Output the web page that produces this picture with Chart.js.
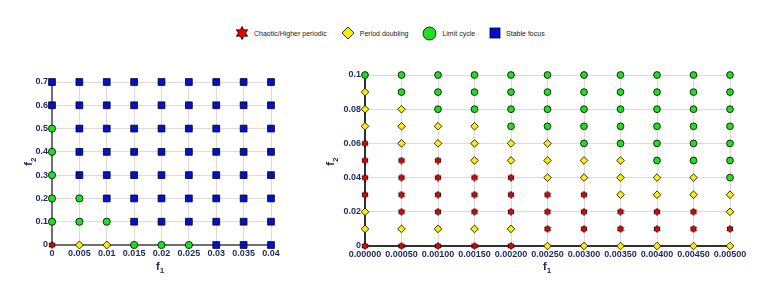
<!DOCTYPE html>
<html>
<head>
<meta charset="utf-8">
<script src="https://cdn.jsdelivr.net/npm/chart.js@4.4.1/dist/chart.umd.min.js"></script>
<style>
  html, body { margin: 0; padding: 0; background: #fff; }
  body { width: 784px; height: 284px; position: relative; overflow: hidden; font-family: "Liberation Sans", Arial, sans-serif; }
  .box { position: absolute; }
  #legend { position: absolute; top: 26px; left: 235px; height: 14px; display: flex; align-items: center; font-size: 7px; color: #222; }
  #legend span.item { display: flex; align-items: center; margin-right: 14px; }
  #legend svg { margin-right: 5px; }
  .atitle { position: absolute; font-weight: bold; font-size: 11px; color: #1c2a5a; }
  .atitle sub { font-size: 8px; }
  .rot { transform: rotate(-90deg); transform-origin: center; }
</style>
</head>
<body>
<div id="legend">
  <span class="item"><svg width="14" height="14" viewBox="-7 -7 14 14"><polygon id="starPoly" fill="#e80000" stroke="#000" stroke-width="0.8"/></svg>Chaotic/Higher periodic</span>
  <span class="item"><svg width="14" height="14" viewBox="-7 -7 14 14"><polygon points="0,-6 6,0 0,6 -6,0" fill="#ffee00" stroke="#000" stroke-width="0.8"/></svg>Period doubling</span>
  <span class="item"><svg width="15" height="15" viewBox="-7.5 -7.5 15 15"><circle r="6.5" fill="#1ee01e" stroke="#000" stroke-width="0.8"/></svg>Limit cycle</span>
  <span class="item"><svg width="12" height="12" viewBox="-6 -6 12 12"><rect x="-5" y="-5" width="10" height="10" fill="#0010d8" stroke="#000" stroke-width="0.8"/></svg>Stable focus</span>
</div>
<div class="box" style="left:0;top:60px;width:300px;height:224px"><canvas id="leftChart"></canvas></div>
<div class="box" style="left:300px;top:60px;width:484px;height:224px"><canvas id="rightChart"></canvas></div>
<div class="atitle" style="left:156px;top:260px">f<sub>1</sub></div>
<div class="atitle rot" style="left:26px;top:154px">f<sub>2</sub></div>
<div class="atitle" style="left:543px;top:260px">f<sub>1</sub></div>
<div class="atitle rot" style="left:328px;top:154px">f<sub>2</sub></div>
<script>
// --- data ---
// state codes: C = chaotic/higher periodic, P = period doubling, L = limit cycle, S = stable focus
// each column string runs from f2 = 0 upwards

// left panel
const leftF1 = [0, 0.005, 0.01, 0.015, 0.02, 0.025, 0.03, 0.035, 0.04];
const leftF2 = [0, 0.1, 0.2, 0.3, 0.4, 0.5, 0.6, 0.7];
const leftStates = [
  "CLLLLLSS",
  "PLLSSSSS",
  "PLSSSSSS",
  "LSSSSSSS",
  "LSSSSSSS",
  "LSSSSSSS",
  "SSSSSSSS",
  "SSSSSSSS",
  "SSSSSSSS",
];
const leftXTicks = ["0", "0.005", "0.01", "0.015", "0.02", "0.025", "0.03", "0.035", "0.04"];
const leftYTicks = ["0", "0.1", "0.2", "0.3", "0.4", "0.5", "0.6", "0.7"];

// right panel
const rightF1 = [0, 0.0005, 0.001, 0.0015, 0.002, 0.0025, 0.003, 0.0035, 0.004, 0.0045, 0.005];
const rightF2 = [0, 0.01, 0.02, 0.03, 0.04, 0.05, 0.06, 0.07, 0.08, 0.09, 0.1];
const rightStates = [
  "CPPCCCCPPPL",
  "CPCCCCPPPLL",
  "CPCCCCPPLLL",
  "CPCCCPPPLLL",
  "CPCCCPPLLLL",
  "PCCCPPPLLLL",
  "PCCCPPLLLLL",
  "PCCPPPLLLLL",
  "PCCPPLLLLLL",
  "PCCPPLLLLLL",
  "PCPPLLLLLLL",
];
const rightXTicks = ["0.00000", "0.00050", "0.00100", "0.00150", "0.00200", "0.00250", "0.00300", "0.00350", "0.00400", "0.00450", "0.00500"];
const rightYVals = [0, 0.02, 0.04, 0.06, 0.08, 0.1];
const rightYTicks = ["0", "0.02", "0.04", "0.06", "0.08", "0.1"];

const stateNames = { C: "Chaotic/Higher periodic", P: "Period doubling", L: "Limit cycle", S: "Stable focus" };
const stateColors = { C: "#e80000", P: "#ffee00", L: "#1ee01e", S: "#0010d8" };

// six point star, used by legend svg and as a point image
function starPoints(rOut, rIn) {
  const pts = [];
  for (let i = 0; i < 12; i++) {
    const r = i % 2 === 0 ? rOut : rIn;
    const a = -Math.PI / 2 + i * Math.PI / 6;
    pts.push([r * Math.cos(a), r * Math.sin(a)]);
  }
  return pts;
}
document.getElementById("starPoly").setAttribute("points",
  starPoints(6.5, 3.6).map(p => p[0].toFixed(2) + "," + p[1].toFixed(2)).join(" "));

function starImage(size) {
  const c = document.createElement("canvas");
  c.width = size; c.height = size;
  const ctx = c.getContext("2d");
  ctx.translate(size / 2, size / 2);
  const pts = starPoints(size / 2 - 0.5, size / 2 * 0.58);
  ctx.beginPath();
  pts.forEach((p, i) => (i ? ctx.lineTo(p[0], p[1]) : ctx.moveTo(p[0], p[1])));
  ctx.closePath();
  ctx.fillStyle = stateColors.C;
  ctx.fill();
  ctx.lineWidth = 0.8;
  ctx.strokeStyle = "#000";
  ctx.stroke();
  return c;
}
const starImg = starImage(8);

function buildDatasets(f1, f2, states, sizes) {
  const order = ["S", "L", "P", "C"];
  const styles = { C: starImg, P: "rectRot", L: "circle", S: "rect" };
  return order.map((code) => {
    const pts = [];
    f1.forEach((x, i) => {
      f2.forEach((y, j) => {
        if (states[i][j] === code) pts.push({ x: x, y: y });
      });
    });
    return {
      label: stateNames[code],
      data: pts,
      pointStyle: styles[code],
      pointRadius: sizes[code],
      pointHoverRadius: sizes[code],
      backgroundColor: stateColors[code],
      borderColor: "#000",
      borderWidth: 0.8,
      clip: false,
    };
  });
}

const tickFont = { family: "'Liberation Sans', Arial, sans-serif", size: 9, weight: "bold" };
const tickColor = "#1c2a5a";

function makeChart(id, cfg) {
  return new Chart(document.getElementById(id), {
    type: "scatter",
    data: { datasets: cfg.datasets },
    options: {
      responsive: true,
      maintainAspectRatio: false,
      animation: false,
      layout: { padding: cfg.padding },
      plugins: { legend: { display: false }, tooltip: { enabled: false } },
      scales: {
        x: {
          type: "linear",
          min: cfg.xMin, max: cfg.xMax,
          afterBuildTicks: (axis) => { axis.ticks = cfg.xVals.map(v => ({ value: v })); },
          ticks: {
            font: tickFont, color: tickColor, padding: 3, maxRotation: 0, autoSkip: false,
            callback: (v, i) => cfg.xLabels[i],
          },
          grid: { color: "#dcdcdc", lineWidth: 1, drawTicks: false },
          border: { color: cfg.axisColor, width: 2 },
          afterFit: (axis) => { axis.height = cfg.xHeight; },
        },
        y: {
          type: "linear",
          min: cfg.yMin, max: cfg.yMax,
          afterBuildTicks: (axis) => { axis.ticks = cfg.yVals.map(v => ({ value: v })); },
          ticks: {
            font: tickFont, color: tickColor, padding: 4, autoSkip: false,
            callback: (v, i) => cfg.yLabels[i],
          },
          grid: { color: "#dcdcdc", lineWidth: 1, drawTicks: false },
          border: { color: cfg.axisColor, width: 2 },
          afterFit: (axis) => { axis.width = cfg.yWidth; },
        },
      },
    },
  });
}

makeChart("leftChart", {
  datasets: buildDatasets(leftF1, leftF2, leftStates, { C: 3, P: 4, L: 3.6, S: 4.8 }),
  padding: { left: 0, right: 29, top: 22, bottom: 0 },
  xMin: 0, xMax: 0.04, xVals: leftF1, xLabels: leftXTicks,
  yMin: 0, yMax: 0.7, yVals: leftF2, yLabels: leftYTicks,
  xHeight: 39, yWidth: 52, axisColor: "#707070",
});

makeChart("rightChart", {
  datasets: buildDatasets(rightF1, rightF2, rightStates, { C: 3, P: 3.8, L: 3.4, S: 4.5 }),
  padding: { left: 0, right: 54, top: 15, bottom: 0 },
  xMin: 0, xMax: 0.005, xVals: rightF1, xLabels: rightXTicks,
  yMin: 0, yMax: 0.1, yVals: rightYVals, yLabels: rightYTicks,
  xHeight: 38, yWidth: 65, axisColor: "#303030",
});
</script>
</body>
</html>
